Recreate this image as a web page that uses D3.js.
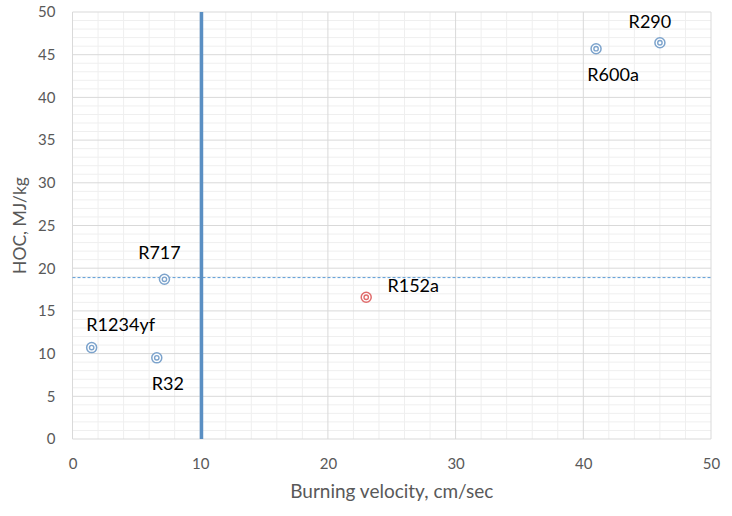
<!DOCTYPE html>
<html><head><meta charset="utf-8">
<script src="https://cdn.jsdelivr.net/npm/d3@7"></script>
<style>body{margin:0;background:#fff}svg{display:block}</style>
</head><body>
<script>
const names = ["R290","R600a","R717","R1234yf","R32","R152a"];
const burningVelocity = [46.0, 41.0, 7.2, 1.5, 6.6, 23.0];
const hoc = [46.4, 45.7, 18.7, 10.7, 9.5, 16.6];
const highlight = [false,false,false,false,false,true];
const labelDx = [-10, 17, -5, 29, 11, 47];
const labelDy = [-15, 32, -20, -17, 32, -5];
const xTicks = [0,10,20,30,40,50];
const yTicks = [0,5,10,15,20,25,30,35,40,45,50];
const thresholdX = 10.1;
const thresholdY = 18.9;

const W=732,H=516;
const m={l:72.5,r:21,t:12,b:77};
const svg=d3.select("body").append("svg").attr("width",W).attr("height",H);
const x=d3.scaleLinear().domain([0,50]).range([m.l,W-m.r]);
const y=d3.scaleLinear().domain([0,50]).range([H-m.b,m.t]);
const font="Lato, 'Open Sans', sans-serif";

const g=svg.append("g");
g.selectAll(".mx").data(d3.range(0,51,2).filter(v=>v%10)).join("line")
 .attr("x1",d=>x(d)).attr("x2",d=>x(d)).attr("y1",y(0)).attr("y2",y(50))
 .attr("stroke","#efefef").attr("stroke-width",1);
g.selectAll(".my").data(d3.range(0,51,1).filter(v=>v%5)).join("line")
 .attr("y1",d=>y(d)).attr("y2",d=>y(d)).attr("x1",x(0)).attr("x2",x(50))
 .attr("stroke","#efefef").attr("stroke-width",1);
g.selectAll(".Mx").data(xTicks).join("line")
 .attr("x1",d=>x(d)).attr("x2",d=>x(d)).attr("y1",y(0)).attr("y2",y(50))
 .attr("stroke","#d9d9d9").attr("stroke-width",1);
g.selectAll(".My").data(yTicks).join("line")
 .attr("y1",d=>y(d)).attr("y2",d=>y(d)).attr("x1",x(0)).attr("x2",x(50))
 .attr("stroke","#d9d9d9").attr("stroke-width",1);

const xa=svg.append("g").attr("transform",`translate(0,${y(0)})`)
 .call(d3.axisBottom(x).tickValues(xTicks).tickSize(0).tickPadding(19));
const ya=svg.append("g").attr("transform",`translate(${x(0)},0)`)
 .call(d3.axisLeft(y).tickValues(yTicks).tickSize(0).tickPadding(17));
[xa,ya].forEach(a=>{a.select(".domain").remove();
 a.selectAll("text").attr("fill","#595959").style("font-family",font).style("font-size","15px");});

svg.append("line").attr("x1",x(0)).attr("x2",x(50)).attr("y1",y(thresholdY)).attr("y2",y(thresholdY))
 .attr("stroke","#5b9bd5").attr("stroke-width",1).attr("stroke-dasharray","3,2");
svg.append("line").attr("x1",x(thresholdX)).attr("x2",x(thresholdX)).attr("y1",y(0)).attr("y2",y(50))
 .attr("stroke","#5a8fc3").attr("stroke-width",3.5);

const data=names.map((n,i)=>({n,x:burningVelocity[i],y:hoc[i],h:highlight[i],dx:labelDx[i],dy:labelDy[i]}));
const pts=svg.selectAll(".pt").data(data).join("g").attr("transform",d=>`translate(${x(d.x)},${y(d.y)})`);
pts.append("circle").attr("r",5).attr("fill","#fff").attr("stroke",d=>d.h?"#e06c6c":"#7ca3cc").attr("stroke-width",1.5);
pts.append("circle").attr("r",2.2).attr("fill","none").attr("stroke",d=>d.h?"#e06c6c":"#7ca3cc").attr("stroke-width",1.4);
pts.append("text").attr("x",d=>d.dx).attr("y",d=>d.dy).attr("text-anchor","middle")
 .style("font-family",font).style("font-size","18px").attr("fill","#000").text(d=>d.n);

svg.append("text").attr("x",(x(0)+x(50))/2).attr("y",498).attr("text-anchor","middle")
 .attr("fill","#595959").style("font-family",font).style("font-size","19px").text("Burning velocity, cm/sec");
svg.append("text").attr("transform",`translate(26,${(y(0)+y(50))/2}) rotate(-90)`).attr("text-anchor","middle")
 .attr("fill","#595959").style("font-family",font).style("font-size","17.5px").text("HOC, MJ/kg");
</script>
</body></html>
